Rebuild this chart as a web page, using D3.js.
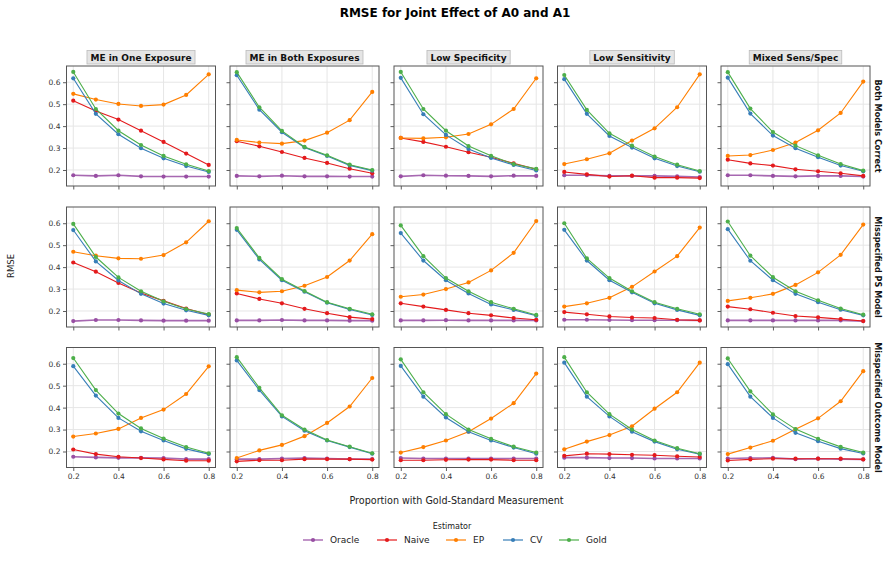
<!DOCTYPE html>
<html><head><meta charset="utf-8">
<script src="https://cdn.jsdelivr.net/npm/d3@7"></script>
<style>body{margin:0;background:#fff}svg{display:block}text{font-family:"DejaVu Sans",sans-serif}</style>
</head><body><svg id="c" width="888" height="576"></svg>
<script>
const xs = [0.2,0.3,0.4,0.5,0.6,0.7,0.8];
const scenarios = ["ME in One Exposure","ME in Both Exposures","Low Specificity","Low Sensitivity","Mixed Sens/Spec"];
const models = ["Both Models Correct","Misspecified PS Model","Misspecified Outcome Model"];
const estimators = ["Oracle","Naive","EP","CV","Gold"];
const colors = ["#984ea3","#e41a1c","#ff7f00","#377eb8","#4daf4a"];
const xTicks = [0.2,0.4,0.6,0.8];
const yTicks = [0.2,0.3,0.4,0.5,0.6];

// [model][scenario] -> 7 values
const oracle = [
 [[0.176,0.173,0.176,0.171,0.170,0.170,0.170],[0.173,0.171,0.174,0.171,0.171,0.170,0.170],[0.171,0.176,0.174,0.173,0.171,0.174,0.173],[0.176,0.176,0.173,0.173,0.173,0.171,0.168],[0.176,0.176,0.173,0.171,0.173,0.173,0.170]],
 [[0.154,0.159,0.159,0.157,0.156,0.156,0.156],[0.157,0.157,0.159,0.157,0.157,0.156,0.156],[0.157,0.157,0.158,0.157,0.157,0.157,0.157],[0.160,0.160,0.159,0.158,0.158,0.158,0.157],[0.157,0.157,0.157,0.157,0.157,0.157,0.154]],
 [[0.176,0.173,0.171,0.171,0.170,0.165,0.165],[0.165,0.165,0.168,0.170,0.168,0.165,0.165],[0.170,0.168,0.168,0.168,0.168,0.168,0.168],[0.172,0.172,0.170,0.170,0.168,0.168,0.168],[0.168,0.170,0.171,0.165,0.167,0.165,0.164]]
];
const naive = [
 [[0.516,0.469,0.430,0.379,0.328,0.275,0.223],[0.331,0.308,0.282,0.255,0.232,0.206,0.185],[0.346,0.328,0.306,0.281,0.258,0.230,0.203],[0.191,0.180,0.170,0.174,0.165,0.165,0.163],[0.247,0.230,0.220,0.203,0.194,0.185,0.173]],
 [[0.421,0.379,0.328,0.282,0.246,0.211,0.183],[0.280,0.255,0.235,0.210,0.190,0.172,0.163],[0.235,0.220,0.205,0.190,0.180,0.168,0.160],[0.195,0.185,0.175,0.170,0.168,0.160,0.157],[0.220,0.208,0.192,0.177,0.171,0.163,0.154]],
 [[0.209,0.188,0.176,0.170,0.164,0.158,0.158],[0.155,0.160,0.160,0.165,0.165,0.165,0.163],[0.160,0.160,0.162,0.163,0.163,0.160,0.160],[0.180,0.190,0.188,0.185,0.183,0.178,0.175],[0.159,0.164,0.167,0.167,0.167,0.167,0.164]]
];
const ep = [
 [[0.547,0.521,0.501,0.492,0.498,0.542,0.636],[0.337,0.325,0.320,0.334,0.370,0.427,0.556],[0.346,0.344,0.349,0.364,0.408,0.478,0.618],[0.227,0.249,0.276,0.334,0.390,0.486,0.636],[0.264,0.268,0.291,0.325,0.381,0.460,0.603]],
 [[0.470,0.452,0.440,0.438,0.455,0.513,0.609],[0.295,0.285,0.290,0.315,0.355,0.430,0.550],[0.265,0.275,0.300,0.330,0.385,0.465,0.610],[0.220,0.235,0.260,0.310,0.380,0.450,0.580],[0.246,0.260,0.278,0.319,0.376,0.456,0.594]],
 [[0.268,0.282,0.303,0.353,0.391,0.462,0.588],[0.170,0.205,0.230,0.270,0.330,0.405,0.535],[0.195,0.220,0.250,0.290,0.350,0.420,0.555],[0.210,0.245,0.275,0.315,0.395,0.470,0.605],[0.188,0.218,0.249,0.301,0.351,0.429,0.566]]
];
const cv = [
 [[0.618,0.456,0.363,0.299,0.253,0.218,0.191],[0.632,0.475,0.372,0.303,0.264,0.221,0.197],[0.620,0.454,0.360,0.296,0.255,0.223,0.198],[0.614,0.456,0.355,0.302,0.253,0.218,0.192],[0.621,0.457,0.357,0.299,0.258,0.220,0.194]],
 [[0.569,0.426,0.339,0.278,0.234,0.203,0.180],[0.570,0.435,0.340,0.288,0.238,0.207,0.182],[0.555,0.430,0.340,0.280,0.230,0.205,0.178],[0.570,0.430,0.340,0.285,0.235,0.205,0.180],[0.573,0.429,0.340,0.278,0.240,0.206,0.180]],
 [[0.589,0.455,0.353,0.292,0.250,0.212,0.188],[0.615,0.480,0.360,0.295,0.250,0.220,0.190],[0.590,0.450,0.355,0.290,0.250,0.218,0.190],[0.605,0.450,0.360,0.290,0.245,0.210,0.188],[0.598,0.450,0.353,0.285,0.247,0.213,0.191]]
];
const gold = [
 [[0.647,0.478,0.379,0.314,0.264,0.226,0.195],[0.646,0.486,0.378,0.305,0.267,0.224,0.200],[0.647,0.478,0.379,0.309,0.265,0.227,0.205],[0.633,0.474,0.367,0.311,0.261,0.224,0.195],[0.646,0.480,0.373,0.311,0.267,0.227,0.197]],
 [[0.597,0.446,0.353,0.290,0.244,0.209,0.186],[0.578,0.442,0.345,0.291,0.240,0.210,0.185],[0.590,0.450,0.350,0.290,0.240,0.210,0.182],[0.600,0.440,0.350,0.290,0.240,0.210,0.185],[0.608,0.452,0.354,0.290,0.249,0.211,0.183]],
 [[0.626,0.480,0.373,0.305,0.259,0.220,0.192],[0.630,0.490,0.365,0.300,0.252,0.222,0.192],[0.620,0.470,0.370,0.300,0.258,0.222,0.195],[0.630,0.470,0.370,0.300,0.250,0.215,0.190],[0.624,0.474,0.369,0.302,0.258,0.221,0.195]]
];
const series = [oracle, naive, ep, cv, gold];

const svg = d3.select("#c");
const W = 149, H = 120;
const colX = [66.5, 230, 394, 557.5, 721];
const rowY = [66, 207, 347.5];
const x = d3.scaleLinear().domain([0.17,0.83]).range([0,W]);
const y = d3.scaleLinear().domain([0.127,0.674]).range([H,0]);
const tc = "#333";

svg.append("text").attr("x",455).attr("y",16.5).attr("text-anchor","middle")
  .attr("font-size",12).attr("font-weight","bold").text("RMSE for Joint Effect of A0 and A1");

models.forEach((m,ri)=>{
  scenarios.forEach((s,ci)=>{
    const g = svg.append("g").attr("transform",`translate(${colX[ci]},${rowY[ri]})`);
    g.selectAll(null).data(xTicks).enter().append("line")
      .attr("x1",d=>x(d)).attr("x2",d=>x(d)).attr("y1",0).attr("y2",H)
      .attr("stroke","#e6e6e6").attr("stroke-width",1);
    g.selectAll(null).data(yTicks).enter().append("line")
      .attr("y1",d=>y(d)).attr("y2",d=>y(d)).attr("x1",0).attr("x2",W)
      .attr("stroke","#e6e6e6").attr("stroke-width",1);
    const xa = d3.axisBottom(x).tickValues(xTicks).tickSize(3.5).tickPadding(2.5)
      .tickFormat(ri===2 ? d3.format(".1f") : "");
    const ya = d3.axisLeft(y).tickValues(yTicks).tickSize(3.5).tickPadding(2.5)
      .tickFormat(ci===0 ? d3.format(".1f") : "");
    const gx = g.append("g").attr("transform",`translate(0,${H})`).call(xa);
    const gy = g.append("g").call(ya);
    [gx,gy].forEach(a=>{
      a.select(".domain").remove();
      a.selectAll("line").attr("stroke",tc).attr("stroke-width",0.8);
      a.selectAll("text").attr("fill",tc).attr("font-size",7.5).attr("font-family","DejaVu Sans, sans-serif");
    });
    estimators.forEach((e,ei)=>{
      const vals = series[ei][ri][ci];
      const pts = xs.map((xv,i)=>[xv,vals[i]]);
      g.append("path").datum(pts)
        .attr("d",d3.line().x(d=>x(d[0])).y(d=>y(d[1])))
        .attr("fill","none").attr("stroke",colors[ei]).attr("stroke-width",ei===0?1.6:1.1)
        .attr("stroke-opacity",ei===0?0.85:1);
      g.selectAll(null).data(pts).enter().append("circle")
        .attr("cx",d=>x(d[0])).attr("cy",d=>y(d[1])).attr("r",2.1)
        .attr("fill",colors[ei]);
    });
    g.append("rect").attr("width",W).attr("height",H).attr("fill","none")
      .attr("stroke","#555").attr("stroke-width",1);
    if (ri===0){
      const sg = g.append("g");
      const r = sg.append("rect");
      const t = sg.append("text").attr("x",W/2).attr("y",-8.5).attr("text-anchor","middle")
        .attr("dominant-baseline","central").attr("font-size",9).attr("font-weight","bold")
        .attr("fill","#111").text(s);
      const bb = t.node().getBBox();
      r.attr("x",bb.x-3.5).attr("y",-15.5).attr("width",bb.width+7).attr("height",13.5)
        .attr("fill","#e5e5e5").attr("stroke","#bbb").attr("stroke-width",0.8);
    }
    if (ci===4){
      g.append("text").attr("transform",`translate(${W+8},${H/2}) rotate(90)`)
        .attr("text-anchor","middle").attr("dominant-baseline","central")
        .attr("font-size",8.1).attr("font-weight","bold").attr("fill","#111").text(m);
    }
  });
});

svg.append("text").attr("transform","translate(11,266) rotate(-90)").attr("text-anchor","middle")
  .attr("dominant-baseline","central").attr("font-size",8.5).attr("fill","#222").text("RMSE");
svg.append("text").attr("x",456.5).attr("y",500.5).attr("text-anchor","middle")
  .attr("dominant-baseline","central").attr("font-size",9.6).attr("fill","#222").text("Proportion with Gold-Standard Measurement");
svg.append("text").attr("x",452).attr("y",526).attr("text-anchor","middle")
  .attr("dominant-baseline","central").attr("font-size",8).attr("fill","#222").text("Estimator");
const legX = [303,377,446,503,559];
estimators.forEach((e,i)=>{
  const lg = svg.append("g").attr("transform",`translate(${legX[i]},540)`);
  lg.append("line").attr("x1",0).attr("x2",20).attr("stroke",colors[i]).attr("stroke-width",1.2);
  lg.append("circle").attr("cx",10).attr("r",2.1).attr("fill",colors[i]);
  lg.append("text").attr("x",27).attr("dominant-baseline","central").attr("font-size",9)
    .attr("fill","#222").text(e);
});
</script></body></html>
